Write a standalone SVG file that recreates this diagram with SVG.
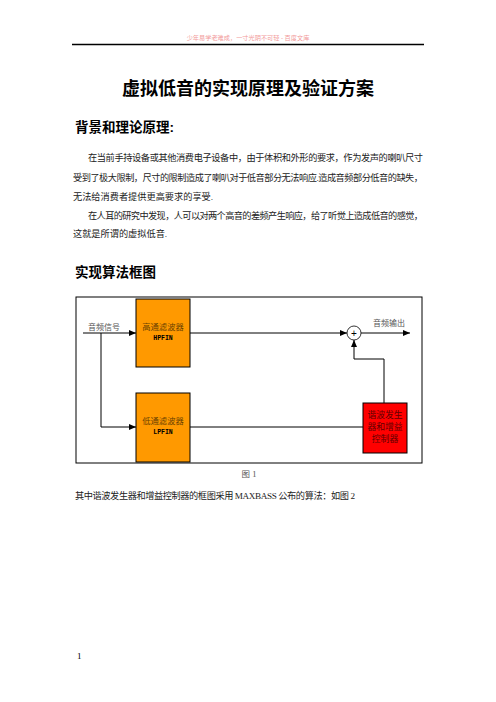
<svg xmlns="http://www.w3.org/2000/svg" width="496" height="702" viewBox="0 0 496 702">
<defs>
<marker id="arr" markerUnits="userSpaceOnUse" markerWidth="7" markerHeight="6" refX="7" refY="3" orient="auto">
<path d="M0,0 L7,3 L0,6 z" fill="#000"/>
</marker>
<style>
.body{font-family:"Liberation Serif","Noto Sans CJK SC",serif;font-size:9.2px;fill:#222}
.head{font-family:"Liberation Sans","Noto Sans CJK SC",sans-serif;font-weight:bold;fill:#000}
.lbl{font-family:"Liberation Serif","Noto Sans CJK SC",serif;font-size:8px;fill:#555}
.nl{font-family:"Liberation Serif","Noto Sans CJK SC",serif;font-size:8.3px;fill:#6a4200;text-anchor:middle}
.code{font-family:"Liberation Mono",monospace;font-weight:bold;font-size:6.5px;fill:#000;text-anchor:middle}
.line{fill:none;stroke:#000;stroke-width:1}
</style>
</defs>
<rect width="496" height="702" fill="#fff"/>
<text x="248" y="40" text-anchor="middle" style="font-family:'Liberation Serif','Noto Sans CJK SC',serif;font-size:6.2px;fill:#f29a9a">少年易学老难成，一寸光阴不可轻 - 百度文库</text>
<line x1="72" y1="44.5" x2="424" y2="44.5" stroke="#000" stroke-width="1.5"/>
<text x="248" y="95" text-anchor="middle" class="head" style="font-size:18px">虚拟低音的实现原理及验证方案</text>
<text x="75" y="132" class="head" style="font-size:13.5px">背景和理论原理:</text>
<text x="88" y="161" class="body" textLength="335" lengthAdjust="spacing">在当前手持设备或其他消费电子设备中，由于体积和外形的要求，作为发声的喇叭尺寸</text>
<text x="73" y="180.5" class="body" textLength="350" lengthAdjust="spacing">受到了极大限制，尺寸的限制造成了喇叭对于低音部分无法响应.造成音频部分低音的缺失，</text>
<text x="73" y="199.5" class="body">无法给消费者提供更高要求的享受.</text>
<text x="88" y="218.5" class="body" textLength="335" lengthAdjust="spacing">在人耳的研究中发现，人可以对两个高音的差频产生响应，给了听觉上造成低音的感觉，</text>
<text x="73" y="237" class="body">这就是所谓的虚拟低音.</text>
<text x="75" y="277" class="head" style="font-size:13.5px">实现算法框图</text>
<rect x="76" y="297" width="346" height="166" class="line"/>
<g id="connectors">
<path d="M83,333 H136" class="line" marker-end="url(#arr)"/>
<path d="M101,333 V427 H136" class="line" marker-end="url(#arr)"/>
<path d="M190,333 H347" class="line" marker-end="url(#arr)"/>
<path d="M361,333 H410" class="line" marker-end="url(#arr)"/>
<path d="M190,427 H363" class="line"/>
<path d="M384,403 V359 H354 V340" class="line" marker-end="url(#arr)"/>
</g>
<g id="input">
<text x="88" y="330" class="lbl">音频信号</text>
</g>
<g id="output">
<text x="373" y="326" class="lbl">音频输出</text>
</g>
<g id="hpf">
<rect x="136" y="299" width="54" height="68" fill="#ff9900" stroke="#000" stroke-width="1"/>
<text x="163" y="330" class="nl">高通滤波器</text>
<text x="163" y="340" class="code">HPFIN</text>
</g>
<g id="lpf">
<rect x="136" y="393" width="54" height="69" fill="#ff9900" stroke="#000" stroke-width="1"/>
<text x="163" y="424" class="nl">低通滤波器</text>
<text x="163" y="434" class="code">LPFIN</text>
</g>
<g id="sum">
<circle cx="354" cy="333" r="7" fill="#fff" stroke="#000" stroke-width="0.8"/>
<text x="354" y="336.5" text-anchor="middle" style="font-family:'Liberation Sans',sans-serif;font-size:10px;fill:#000">+</text>
</g>
<g id="harmonic">
<rect x="363" y="403" width="44" height="50" fill="#ff0000" stroke="#000" stroke-width="1"/>
<text x="385" y="418" class="nl" style="fill:#600000;font-size:8.8px">谐波发生</text>
<text x="385" y="430" class="nl" style="fill:#600000;font-size:8.8px">器和增益</text>
<text x="385" y="441.5" class="nl" style="fill:#600000;font-size:8.8px">控制器</text>
</g>
<text x="249" y="477" text-anchor="middle" class="lbl" style="font-size:8.5px">图 1</text>
<text x="75" y="499" class="body" textLength="280" lengthAdjust="spacing">其中谐波发生器和增益控制器的框图采用 MAXBASS 公布的算法：如图 2</text>
<text x="77" y="659" class="body" style="font-size:9px;fill:#000">1</text>
</svg>
